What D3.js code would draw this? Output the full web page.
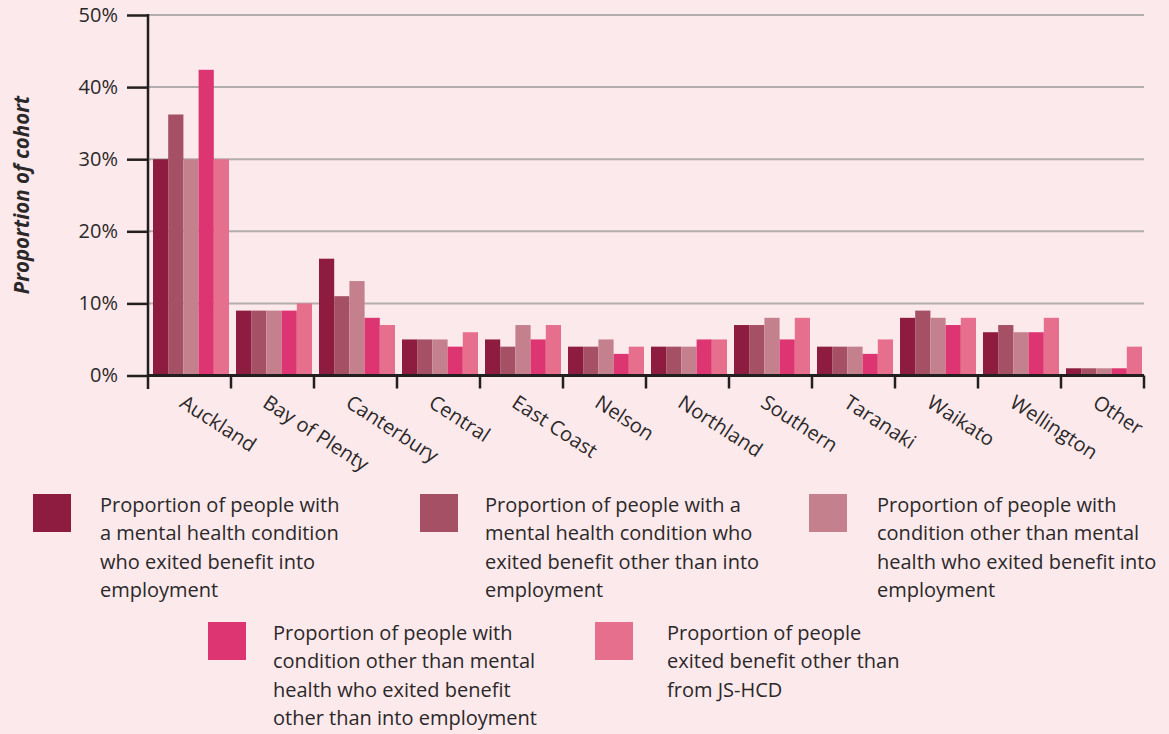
<!DOCTYPE html>
<html><head><meta charset="utf-8">
<script src="https://cdn.jsdelivr.net/npm/d3@7"></script>
<style>
html,body{margin:0;padding:0;background:#fce9eb;}
svg{display:block;}
text{font-family:"Open Sans","Noto Sans",sans-serif;fill:#2b2829;}
</style></head>
<body>
<svg id="chart" width="1169" height="734"></svg>
<script>
const categories = ["Auckland","Bay of Plenty","Canterbury","Central","East Coast","Nelson","Northland","Southern","Taranaki","Waikato","Wellington","Other"];
const seriesNames = [
  "Proportion of people with a mental health condition who exited benefit into employment",
  "Proportion of people with a mental health condition who exited benefit other than into employment",
  "Proportion of people with condition other than mental health who exited benefit into employment",
  "Proportion of people with condition other than mental health who exited benefit other than into employment",
  "Proportion of people exited benefit other than from JS-HCD"
];
const mhIntoEmployment      = [30, 9, 16.2, 5, 5, 4, 4, 7, 4, 8, 6, 1];
const mhOtherThanEmployment = [36.2, 9, 11, 5, 4, 4, 4, 7, 4, 9, 7, 1];
const otherIntoEmployment   = [30, 9, 13.1, 5, 7, 5, 4, 8, 4, 8, 6, 1];
const otherOtherThanEmploy  = [42.4, 9, 8, 4, 5, 3, 5, 5, 3, 7, 6, 1];
const exitedNotJSHCD        = [30, 10, 7, 6, 7, 4, 5, 8, 5, 8, 8, 4];
const seriesValues = [mhIntoEmployment, mhOtherThanEmployment, otherIntoEmployment, otherOtherThanEmploy, exitedNotJSHCD];
const colors = ["#8d1c40", "#a55064", "#c4818d", "#dc3571", "#e66f8d"];
const yTicks = [0, 10, 20, 30, 40, 50];
const legendLines = [
  ["Proportion of people with","a mental health condition","who exited benefit into","employment"],
  ["Proportion of people with a","mental health condition who","exited benefit other than into","employment"],
  ["Proportion of people with","condition other than mental","health who exited benefit into","employment"],
  ["Proportion of people with","condition other than mental","health who exited benefit","other than into employment"],
  ["Proportion of people","exited benefit other than","from JS-HCD"]
];

const svg = d3.select("#chart");
const plotLeft = 148, plotRight = 1144, plotTop = 15, plotBottom = 375.5;

const x = d3.scaleBand().domain(categories).range([plotLeft, plotRight]).padding(0);
const x1 = d3.scaleBand().domain(d3.range(5)).range([5, 81]).padding(0);
const y = d3.scaleLinear().domain([0, 50]).range([plotBottom, plotTop]);

// gridlines
svg.append("g").selectAll("line").data(yTicks.filter(d => d > 0)).join("line")
  .attr("x1", plotLeft).attr("x2", plotRight)
  .attr("y1", d => y(d)).attr("y2", d => y(d))
  .attr("stroke", "#b2adae").attr("stroke-width", 2);

// bars
const groups = svg.append("g").selectAll("g").data(categories).join("g")
  .attr("transform", c => `translate(${x(c)},0)`);
groups.selectAll("rect").data((c, i) => seriesValues.map((s, k) => ({k, v: s[i]}))).join("rect")
  .attr("x", d => x1(d.k)).attr("width", x1.bandwidth())
  .attr("y", d => y(d.v)).attr("height", d => y(0) - y(d.v))
  .attr("fill", d => colors[d.k]);

// y axis
const yAxis = svg.append("g").attr("transform", `translate(${plotLeft},0)`)
  .call(d3.axisLeft(y).tickValues(yTicks).tickFormat(d => d + "%").tickSize(21).tickPadding(9));
yAxis.select(".domain").remove();
yAxis.selectAll(".tick line").attr("stroke", "#231f20").attr("stroke-width", 2.5);
yAxis.selectAll(".tick text").attr("font-size", 20).attr("font-family", "'Open Sans', sans-serif").attr("fill", "#2b2829");
svg.append("line").attr("x1", plotLeft).attr("x2", plotLeft).attr("y1", plotTop - 1).attr("y2", 389)
  .attr("stroke", "#231f20").attr("stroke-width", 2.5);

// x axis
const xAxis = svg.append("g").attr("transform", `translate(0,${plotBottom})`)
  .call(d3.axisBottom(x).tickSize(0).tickFormat(""));
xAxis.select(".domain").attr("stroke", "#231f20").attr("stroke-width", 3).attr("d", `M${plotLeft},0H${plotRight}`);
const boundaries = categories.map(c => x(c) + x.bandwidth());
xAxis.selectAll("line.bnd").data(boundaries).join("line").attr("class", "bnd")
  .attr("x1", d => d).attr("x2", d => d).attr("y1", 0).attr("y2", 13)
  .attr("stroke", "#231f20").attr("stroke-width", 2.5);

// x labels
svg.append("g").selectAll("text").data(categories).join("text")
  .attr("transform", c => `translate(${x(c) + x.bandwidth() / 2 - 11},406) rotate(33)`)
  .attr("font-size", 20).attr("text-anchor", "start")
  .text(c => c);

// y title
svg.append("text").attr("transform", "translate(29,195) rotate(-90)")
  .attr("text-anchor", "middle").attr("font-size", 20.5).attr("font-weight", "bold").attr("font-style", "italic")
  .text("Proportion of cohort");

// legend
const legendPos = [[33, 494, 100], [420, 494, 485], [809, 494, 877], [208, 622, 273], [595, 622, 667]];
const lg = svg.append("g").selectAll("g").data(seriesNames).join("g");
lg.append("rect")
  .attr("x", (d, i) => legendPos[i][0]).attr("y", (d, i) => legendPos[i][1])
  .attr("width", 38).attr("height", 38).attr("fill", (d, i) => colors[i]);
lg.append("text").attr("font-size", 20)
  .each(function(d, i) {
    d3.select(this).selectAll("tspan").data(legendLines[i]).join("tspan")
      .attr("x", legendPos[i][2]).attr("y", (t, j) => legendPos[i][1] + 18 + j * 28.4).text(t => t);
  });
</script>
</body></html>
